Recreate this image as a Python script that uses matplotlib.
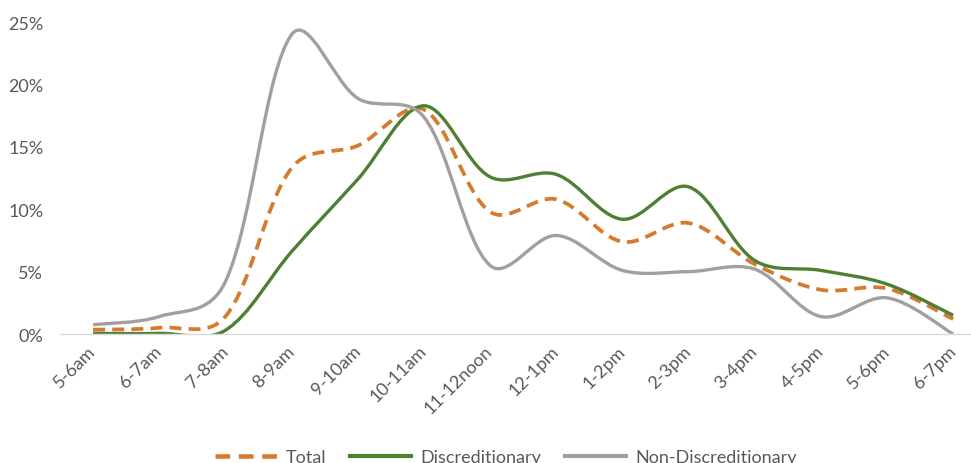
import matplotlib
matplotlib.use("Agg")
import matplotlib.pyplot as plt
import numpy as np
from matplotlib.path import Path
from matplotlib.patches import PathPatch
from matplotlib.lines import Line2D
import matplotlib.transforms as mtrans

hours = ["5-6am", "6-7am", "7-8am", "8-9am", "9-10am", "10-11am", "11-12noon",
         "12-1pm", "1-2pm", "2-3pm", "3-4pm", "4-5pm", "5-6pm", "6-7pm"]
total = [0.35, 0.5, 1.4, 13.3, 15.1, 18.0, 9.8, 10.8, 7.4, 8.9, 5.6, 3.55, 3.65, 1.2]
discretionary = [0.05, 0.05, 0.3, 6.6, 12.4, 18.3, 12.6, 12.8, 9.2, 11.8, 5.9, 5.1, 4.0, 1.5]
non_discretionary = [0.75, 1.4, 4.2, 24.0, 18.9, 17.4, 5.5, 7.9, 5.1, 5.0, 5.2, 1.4, 2.9, 0.0]

plt.rcParams['font.family'] = ['Lato', 'DejaVu Sans']

# pixel aspect of one y unit vs one x unit (for chord lengths)
YSCALE = 12.47 / 66.15
BLEND = 0.5  # 0 = plain catmull-rom, 1 = fully chord weighted


def smooth_path(ys):
    # Excel-like smoothed line: bezier with tangents partly weighted by chord length
    pts = np.column_stack([np.arange(len(ys)), ys]).astype(float)
    n = len(pts)

    def dist(a, b):
        return np.hypot(b[0] - a[0], (b[1] - a[1]) * YSCALE)

    verts = [pts[0]]
    codes = [Path.MOVETO]
    for i in range(n - 1):
        p1 = pts[i]
        p2 = pts[i + 1]
        p0 = pts[i - 1] if i > 0 else p1
        p3 = pts[i + 2] if i + 2 < n else p2
        w1 = 0.5
        if i > 0:
            w1 = dist(p1, p2) / (dist(p0, p1) + dist(p1, p2))
        w1 = 0.5 * (1 - BLEND) + w1 * BLEND
        c1 = p1 + (p2 - p0) / 3 * w1
        w2 = 0.5
        if i + 2 < n:
            w2 = dist(p1, p2) / (dist(p1, p2) + dist(p2, p3))
        w2 = 0.5 * (1 - BLEND) + w2 * BLEND
        c2 = p2 - (p3 - p1) / 3 * w2
        verts += [c1, c2, p2]
        codes += [Path.CURVE4] * 3
    return Path(verts, codes)


fig = plt.figure(figsize=(9.71, 4.64), dpi=100)
ax = fig.add_axes([60 / 971, 0.278, 1 - 60 / 971, 0.672])

series = [
    ("Total", total, "#d67a2c", (0, (3.2, 1.9)), 2.7),
    ("Discreditionary", discretionary, "#4f7f33", "-", 2.4),
    ("Non-Discreditionary", non_discretionary, "#a39f9e", "-", 2.4),
]

handles = []
for name, ys, col, ls, lw in series:
    p = PathPatch(smooth_path(ys), facecolor="none", edgecolor=col,
                  linestyle=ls, linewidth=lw, capstyle="butt")
    ax.add_patch(p)
    handles.append(Line2D([], [], color=col, linestyle=ls, linewidth=lw + 0.6,
                          dash_capstyle="butt"))

ax.set_xlim(-0.5, 13.27)
ax.set_ylim(0, 25)
ax.set_yticks([0, 5, 10, 15, 20, 25])
ax.set_yticklabels([f"{v}%" for v in [0, 5, 10, 15, 20, 25]])
ax.set_xticks(range(len(hours)))
ax.set_xticklabels(hours, rotation=45, ha="right", va="center",
                   rotation_mode="anchor")
offset = mtrans.ScaledTranslation(6 / 100, 0, fig.dpi_scale_trans)
for lab in ax.get_xticklabels():
    lab.set_transform(lab.get_transform() + offset)

ax.tick_params(axis="both", length=0, labelsize=13, colors="#595959")
ax.tick_params(axis="y", pad=12)
ax.tick_params(axis="x", pad=10)
for s in ["left", "top", "right"]:
    ax.spines[s].set_visible(False)
ax.spines["bottom"].set_color("#d9d9d9")
ax.spines["bottom"].set_linewidth(1.0)

fig.legend(handles, [s[0] for s in series], loc="center",
           bbox_to_anchor=(0.521, 0.012), ncol=3, frameon=False,
           fontsize=13, handlelength=3.4, handletextpad=0.5,
           columnspacing=1.3, labelcolor="#595959")

fig.savefig("out.png", dpi=100)
